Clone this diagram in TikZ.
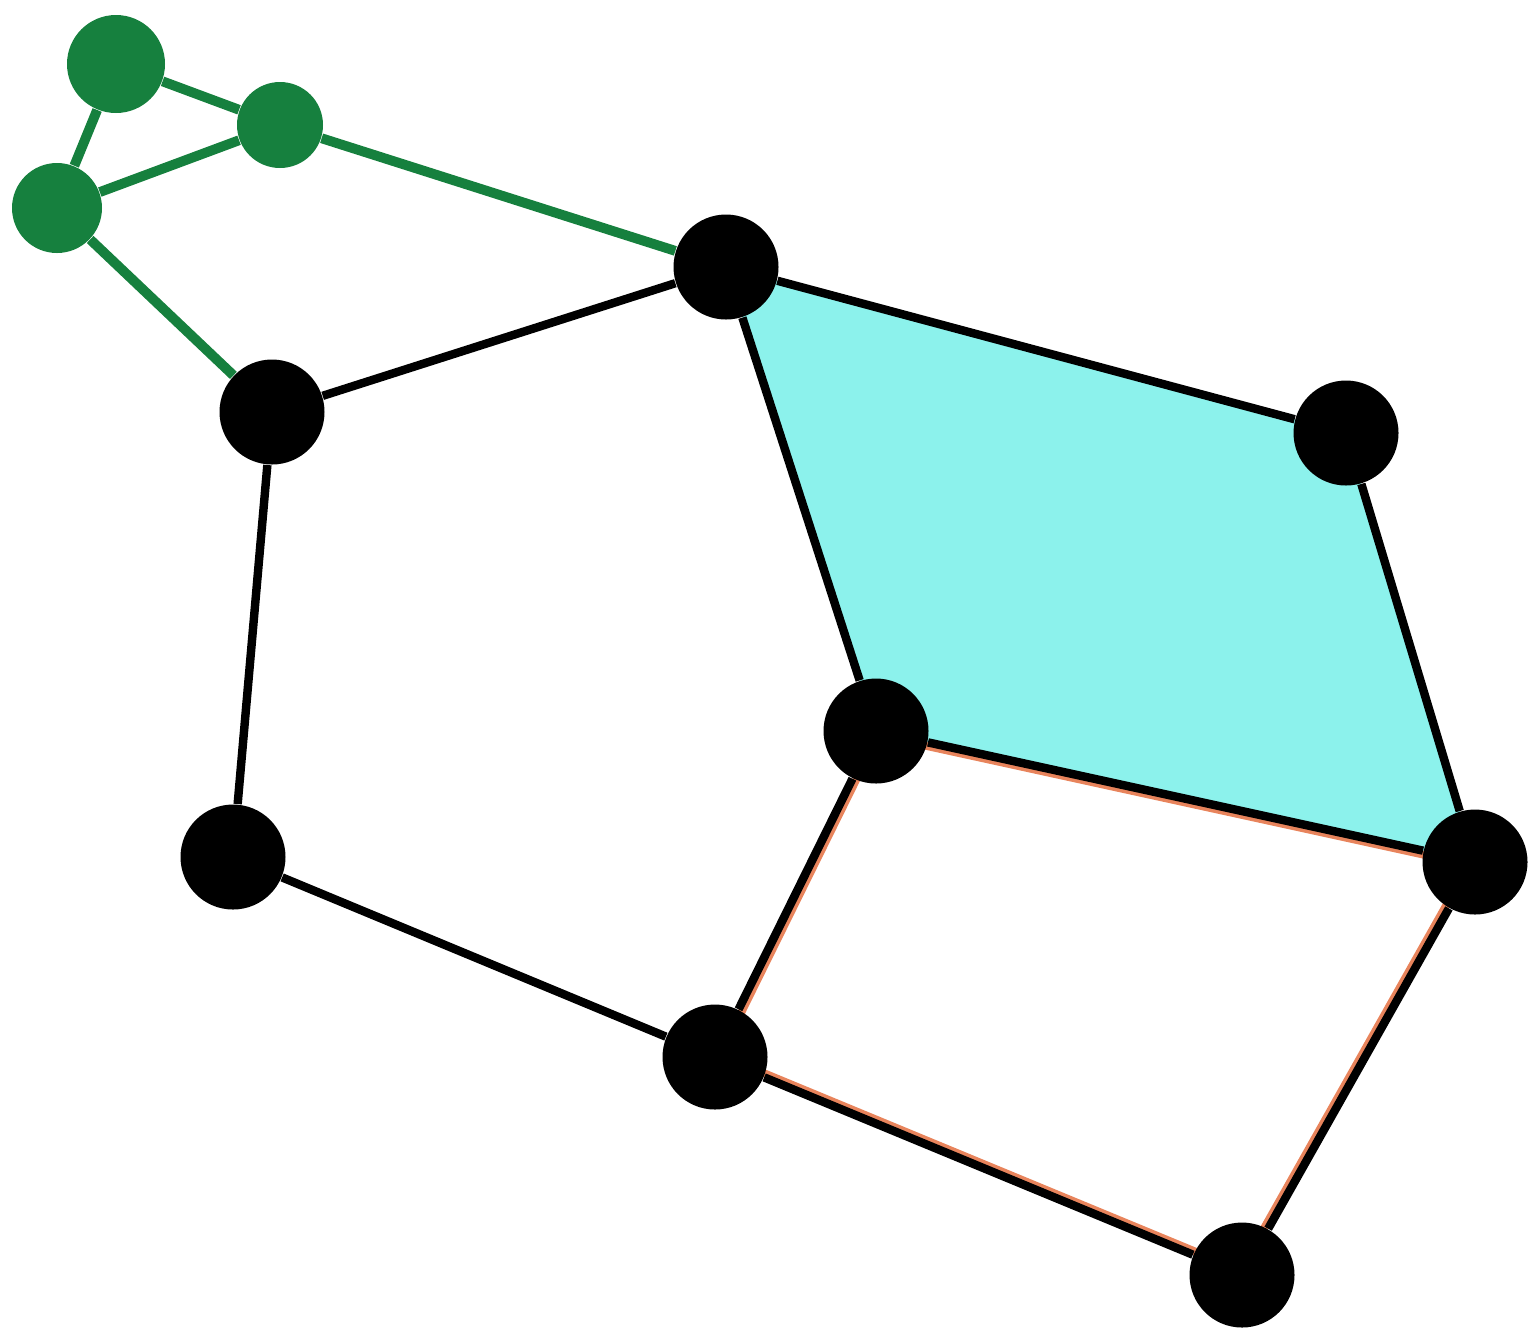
\documentclass[tikz,border=0pt]{standalone}
\usepackage{tikz}
\usetikzlibrary{backgrounds}

\definecolor{leaf}{RGB}{22,128,62}
\definecolor{aqua}{RGB}{140,242,236}
\definecolor{rim}{RGB}{232,132,92}

\begin{document}
\begin{tikzpicture}[
    vtx/.style={circle, fill=black, inner sep=0pt, minimum size=1.05cm},
    gvtx/.style={circle, fill=leaf, inner sep=0pt, minimum size=0.86cm},
    edge/.style={line width=2.4pt, black},
    gedge/.style={line width=2.8pt, leaf}
]
\useasboundingbox (0,0) rectangle (15.37,-13.33);

% green triangle
\node[gvtx, minimum size=0.98cm] (g1) at (1.16,-0.64) {};
\node[gvtx] (g2) at (2.80,-1.25) {};
\node[gvtx, minimum size=0.9cm] (g3) at (0.57,-2.08) {};

% black vertices
\node[vtx] (a) at (7.26,-2.67) {};
\node[vtx] (b) at (2.72,-4.12) {};
\node[vtx] (c) at (13.46,-4.33) {};
\node[vtx] (d) at (8.76,-7.31) {};
\node[vtx] (e) at (2.33,-8.57) {};
\node[vtx] (f) at (14.75,-8.62) {};
\node[vtx] (h) at (7.15,-10.57) {};
\node[vtx] (i) at (12.42,-12.75) {};

\begin{pgfonlayer}{background}
\fill[aqua] (a.center) -- (c.center) -- (f.center) -- (d.center) -- cycle;
\begin{scope}
\clip (h.center) -- (d.center) -- (f.center) -- (i.center) -- cycle;
\draw[rim, line width=4.4pt] (h.center) -- (d.center) -- (f.center) -- (i.center) -- cycle;
\end{scope}
\end{pgfonlayer}

\draw[gedge] (g1) -- (g2);
\draw[gedge] (g1) -- (g3);
\draw[gedge] (g3) -- (g2);
\draw[gedge] (g2) -- (a);
\draw[gedge] (g3) -- (b);

\draw[edge] (a) -- (b);
\draw[edge] (b) -- (e);
\draw[edge] (e) -- (h);
\draw[edge] (h) -- (d);
\draw[edge] (d) -- (a);
\draw[edge] (a) -- (c);
\draw[edge] (c) -- (f);
\draw[edge] (f) -- (d);
\draw[edge] (f) -- (i);
\draw[edge] (i) -- (h);
\end{tikzpicture}
\end{document}
